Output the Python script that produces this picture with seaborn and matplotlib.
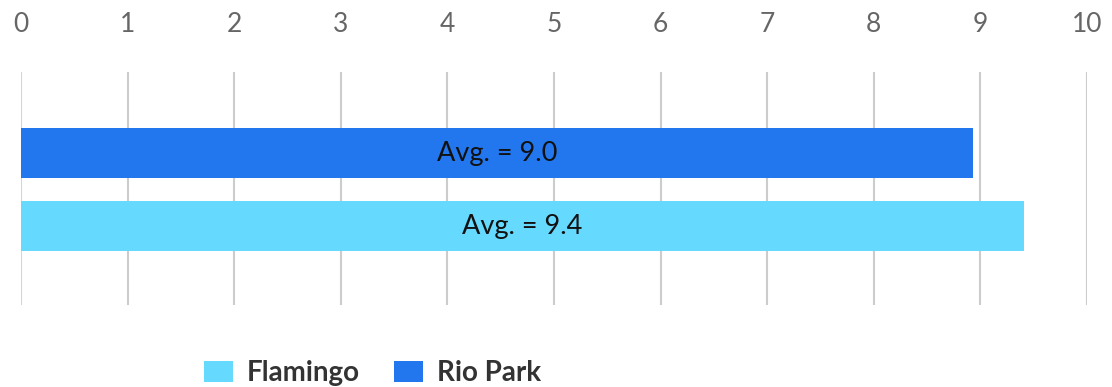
import matplotlib
matplotlib.use("Agg")
import matplotlib.pyplot as plt
import seaborn as sns
import pandas as pd
from matplotlib.patches import Patch

# data
sites = ["Rio Park", "Flamingo"]
scores = [8.93, 9.41]
avg_labels = ["Avg. = 9.0", "Avg. = 9.4"]
site_colors = {"Rio Park": "#2277ee", "Flamingo": "#66d9ff"}
legend_order = ["Flamingo", "Rio Park"]
x_ticks = list(range(0, 11))

df = pd.DataFrame({"site": sites, "score": scores})

sns.set_style("white")
plt.rcParams["font.family"] = ["Lato", "DejaVu Sans"]

fig = plt.figure(figsize=(11.12, 3.87), dpi=100)
ax = fig.add_axes([21 / 1112, 1 - 305 / 387, (1087 - 21) / 1112, (305 - 72) / 387])

sns.barplot(data=df, x="score", y="site", hue="site", palette=site_colors,
            order=sites, orient="h", width=0.68, dodge=False, legend=False,
            saturation=1, ax=ax, zorder=3, edgecolor="none")

for patch, txt in zip(ax.patches, avg_labels):
    ax.text(patch.get_width() / 2, patch.get_y() + patch.get_height() / 2, txt,
            ha="center", va="center", fontsize=19.5, color="#111111", zorder=4)

ax.set_xlim(0, 10)
ax.set_ylim(2.08, -1.11)
ax.set_xticks(x_ticks)
ax.xaxis.tick_top()
ax.tick_params(axis="x", length=0, pad=25, labelsize=19, labelcolor="#666666")
ax.set_yticks([])
ax.set_xlabel("")
ax.set_ylabel("")
for s in ax.spines.values():
    s.set_visible(False)

for xv in x_ticks:
    ax.axvline(xv, color="#ccd6eb" if xv == 0 else "#cccccc", lw=1.5, zorder=1)

handles = [Patch(facecolor=site_colors[n], edgecolor="none") for n in legend_order]
leg = fig.legend(handles, legend_order, loc="center", bbox_to_anchor=(0.335, 0.036),
                 ncol=2, frameon=False, handlelength=1.05, handleheight=0.8,
                 columnspacing=1.25, handletextpad=0.5,
                 prop={"family": ["Lato", "DejaVu Sans"], "weight": "bold", "size": 20})
for t in leg.get_texts():
    t.set_color("#333333")

fig.savefig("out.png", dpi=100)
